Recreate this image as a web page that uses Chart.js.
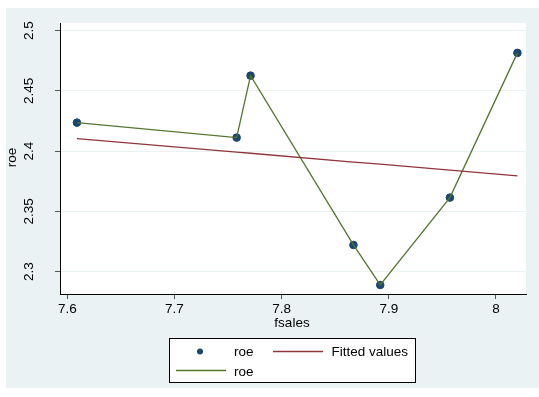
<!DOCTYPE html>
<html>
<head>
<meta charset="utf-8">
<script src="https://cdn.jsdelivr.net/npm/chart.js@4/dist/chart.umd.min.js"></script>
<style>
	html, body { margin: 0; padding: 0; background: #fff; }
	#wrap { width: 539px; height: 397px; position: relative; }
</style>
</head>
<body>
<div id="wrap"><canvas id="myChart" width="539" height="397"></canvas></div>
<script>
// data
let fsales = [7.609, 7.758, 7.771, 7.867, 7.892, 7.957, 8.020]
let roe = [2.4237, 2.4113, 2.4627, 2.3222, 2.2890, 2.3615, 2.4816]
let fitted = [2.4105, 2.3992, 2.3983, 2.3910, 2.3892, 2.3843, 2.3795]
let xTicks = [7.6, 7.7, 7.8, 7.9, 8]
let yTicks = [2.3, 2.35, 2.4, 2.45, 2.5]

const FONT = '"Liberation Sans", Arial, sans-serif'
const BG = '#eaf2f3'
const NAVY = '#1a476f'
const RED = '#90353b'
const GREEN = '#55752f'

function pts(xs, ys) {
	let out = []
	for (let i = 0; i < xs.length; i++) out.push({x: xs[i], y: ys[i]})
	return out
}

const decor = {
	id: 'decor',
	beforeDraw(chart) {
		let ctx = chart.ctx
		let a = chart.chartArea
		ctx.save()
		ctx.fillStyle = '#fff'
		ctx.fillRect(0, 0, chart.width, chart.height)
		ctx.fillStyle = BG
		ctx.fillRect(6, 8, chart.width - 6, 380)
		ctx.fillStyle = '#fff'
		ctx.fillRect(a.left, a.top, a.right - a.left, a.bottom - a.top)
		ctx.restore()
	},
	afterDraw(chart) {
		let ctx = chart.ctx
		let a = chart.chartArea
		let ys = chart.scales.y
		ctx.save()
		ctx.fillStyle = '#000'
		ctx.font = '13.5px ' + FONT
		// rotated y tick labels
		for (let v of yTicks) {
			let py = ys.getPixelForValue(v)
			ctx.save()
			ctx.translate(36, py)
			ctx.rotate(-Math.PI / 2)
			ctx.textAlign = 'center'
			ctx.textBaseline = 'bottom'
			ctx.fillText(String(v), 0, 0)
			ctx.restore()
		}
		// axis titles
		ctx.save()
		ctx.translate(12, (a.top + a.bottom) / 2 - 1)
		ctx.rotate(-Math.PI / 2)
		ctx.textAlign = 'center'
		ctx.textBaseline = 'middle'
		ctx.fillText('roe', 0, 0)
		ctx.restore()
		ctx.textAlign = 'center'
		ctx.textBaseline = 'middle'
		ctx.fillText('fsales', 292, 323)

		// legend
		ctx.fillStyle = '#fff'
		ctx.fillRect(169.5, 338.5, 246, 44)
		ctx.strokeStyle = '#000'
		ctx.lineWidth = 1
		ctx.strokeRect(169.5, 338.5, 246, 44)
		ctx.fillStyle = NAVY
		ctx.beginPath()
		ctx.arc(200, 351.5, 3, 0, Math.PI * 2)
		ctx.fill()
		ctx.lineWidth = 1.3
		ctx.strokeStyle = RED
		ctx.beginPath(); ctx.moveTo(273, 351.5); ctx.lineTo(323, 351.5); ctx.stroke()
		ctx.strokeStyle = GREEN
		ctx.beginPath(); ctx.moveTo(176, 370.5); ctx.lineTo(226, 370.5); ctx.stroke()
		ctx.fillStyle = '#000'
		ctx.textAlign = 'left'
		ctx.fillText('roe', 234, 352)
		ctx.fillText('Fitted values', 331.5, 352)
		ctx.fillText('roe', 234, 372)
		ctx.restore()
	}
}

new Chart('myChart', {
	type: 'scatter',
	data: {
		datasets: [
			{
				label: 'Fitted values',
				data: pts(fsales, fitted),
				showLine: true,
				borderColor: RED,
				borderWidth: 1.3,
				pointRadius: 0
			},
			{
				label: 'roe',
				data: pts(fsales, roe),
				showLine: true,
				borderColor: GREEN,
				borderWidth: 1.3,
				pointRadius: 0
			},
			{
				label: 'roe',
				data: pts(fsales, roe),
				showLine: false,
				backgroundColor: NAVY,
				borderColor: NAVY,
				pointRadius: 3.8
			}
		]
	},
	options: {
		responsive: false,
		animation: false,
		layout: { padding: { left: 6, top: 23, right: 13, bottom: 78 } },
		plugins: { legend: { display: false }, tooltip: { enabled: false } },
		scales: {
			x: {
				type: 'linear',
				min: 7.5932,
				max: 8.028,
				afterBuildTicks(scale) { scale.ticks = xTicks.map(v => ({value: v})) },
				afterFit(scale) { scale.height = 25 },
				grid: { drawOnChartArea: false, drawTicks: true, tickLength: 5, tickColor: '#555' },
				border: { color: '#000', width: 1 },
				ticks: {
					color: '#000',
					padding: 2,
					maxRotation: 0,
					font: { family: FONT, size: 13.5 },
					callback: v => String(v)
				}
			},
			y: {
				type: 'linear',
				min: 2.2815,
				max: 2.5064,
				afterBuildTicks(scale) { scale.ticks = yTicks.map(v => ({value: v})) },
				afterFit(scale) { scale.width = 54 },
				grid: { color: BG, lineWidth: 1, drawTicks: true, tickLength: 5, tickColor: '#555' },
				border: { color: '#000', width: 1 },
				ticks: { display: false }
			}
		}
	},
	plugins: [decor]
})
</script>
</body>
</html>
